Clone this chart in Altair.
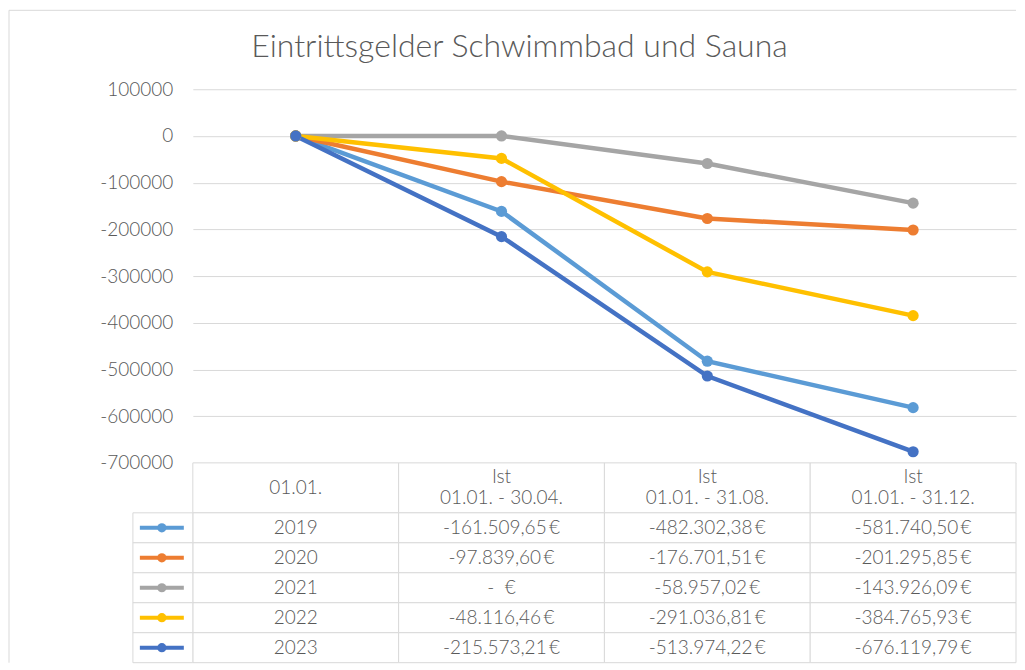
import altair as alt
import pandas as pd

# ---------------- data ----------------
title_text = "Eintrittsgelder Schwimmbad und Sauna"
categories = ["01.01.", "Ist 01.01. - 30.04.", "Ist 01.01. - 31.08.", "Ist 01.01. - 31.12."]
header_labels = ["01.01.", "Ist\n01.01. - 30.04.", "Ist\n01.01. - 31.08.", "Ist\n01.01. - 31.12."]
series = ["2019", "2020", "2021", "2022", "2023"]
v2019 = [0, -161509.65, -482302.38, -581740.50]
v2020 = [0, -97839.60, -176701.51, -201295.85]
v2021 = [0, 0, -58957.02, -143926.09]
v2022 = [0, -48116.46, -291036.81, -384765.93]
v2023 = [0, -215573.21, -513974.22, -676119.79]
colors = ["#5B9BD5", "#ED7D31", "#A5A5A5", "#FFC000", "#4472C4"]
y_ticks = [100000, 0, -100000, -200000, -300000, -400000, -500000, -600000, -700000]

values = [v2019, v2020, v2021, v2022, v2023]

# ---------------- styles ----------------
W = 824
H_TOP = 374
HDR_PX = 50
ROW_PX = 30
H_TAB = HDR_PX + ROW_PX * len(series)
FONT = "Lato"
TXT = "#595959"
GRID = "#d9d9d9"


def de_eur(v):
    if v == 0:
        return "-\u00a0\u00a0€"
    s = f"{abs(v):,.2f}".replace(",", "X").replace(".", ",").replace("X", ".")
    return ("-" if v < 0 else "") + s + "\u2009€"


rows = []
for si, (s, vals) in enumerate(zip(series, values)):
    for ci, (c, v) in enumerate(zip(categories, vals)):
        rows.append({"series": s, "category": c, "value": v, "order": si * 10 + ci})
df = pd.DataFrame(rows)

color = alt.Color("series:N", scale=alt.Scale(domain=series, range=colors), legend=None)
x_top = alt.X("category:N", sort=categories,
              scale=alt.Scale(type="point", domain=categories, padding=0.5), axis=None)
y_top = alt.Y("value:Q",
              scale=alt.Scale(domain=[-700000, 100000], nice=False, zero=False),
              axis=alt.Axis(values=y_ticks, labelExpr="'' + datum.value", domain=False,
                            ticks=False, grid=True, gridColor=GRID, gridWidth=1,
                            labelFont=FONT, labelFontSize=19, labelFontWeight=300,
                            labelColor=TXT, labelPadding=20, title=None))

lines = alt.Chart(df).mark_line(strokeWidth=4.5).encode(x=x_top, y=y_top, color=color)
points = alt.Chart(df).mark_circle(size=125, opacity=1).encode(
    x=x_top, y=y_top, color=color, order=alt.Order("order:Q"))

one = pd.DataFrame({"t": [title_text]})
title = alt.Chart(one).mark_text(font=FONT, fontSize=32, fontWeight=300, color=TXT,
                                 align="center", baseline="alphabetic").encode(
    x=alt.value(327), y=alt.value(-32), text="t:N")
frame_top = alt.Chart(one).mark_rule(color=GRID, strokeWidth=1).encode(
    x=alt.value(-184), x2=alt.value(W), y=alt.value(-79))
frame_left = alt.Chart(one).mark_rule(color=GRID, strokeWidth=1).encode(
    x=alt.value(-184), y=alt.value(-79), y2=alt.value(H_TOP + H_TAB))

top = alt.layer(frame_top, frame_left, title, lines, points).properties(width=W, height=H_TOP)

# ---------------- data table ----------------
cells = []
for ci, c in enumerate(categories):
    cells.append({"category": c, "row": "header", "top": 0, "bottom": HDR_PX,
                  "text": header_labels[ci], "series": "",
                  "nlines": header_labels[ci].count("\n") + 1})
for si, s in enumerate(series):
    t = HDR_PX + si * ROW_PX
    for ci, c in enumerate(categories):
        txt = s if ci == 0 else de_eur(values[si][ci])
        cells.append({"category": c, "row": s, "top": t, "bottom": t + ROW_PX,
                      "text": txt, "series": s, "nlines": 1})
cdf = pd.DataFrame(cells)
cdf["mid"] = (cdf["top"] + cdf["bottom"]) / 2

keys = pd.DataFrame({"series": series,
                     "top": [HDR_PX + i * ROW_PX for i in range(len(series))]})
keys["bottom"] = keys["top"] + ROW_PX
keys["mid"] = (keys["top"] + keys["bottom"]) / 2

x_tab = alt.X("category:N", sort=categories,
              scale=alt.Scale(type="band", domain=categories, paddingInner=0, paddingOuter=0),
              axis=None)
y_scale = alt.Scale(domain=[0, H_TAB], reverse=True, nice=False, zero=False)

cell_rects = alt.Chart(cdf).mark_rect(fill="white", stroke=GRID, strokeWidth=1).encode(
    x=x_tab, y=alt.Y("top:Q", scale=y_scale, axis=None), y2="bottom:Q")
key_rects = alt.Chart(keys).mark_rect(fill="white", stroke=GRID, strokeWidth=1).encode(
    x=alt.value(-60), x2=alt.value(0),
    y=alt.Y("top:Q", scale=y_scale, axis=None), y2="bottom:Q")
key_lines = alt.Chart(keys).mark_rule(strokeWidth=4).encode(
    x=alt.value(-53), x2=alt.value(-9),
    y=alt.Y("mid:Q", scale=y_scale, axis=None), color=color)
key_dots = alt.Chart(keys).mark_circle(size=85, opacity=1).encode(
    x=alt.value(-31), y=alt.Y("mid:Q", scale=y_scale, axis=None), color=color)
text_style = dict(font=FONT, fontSize=19, fontWeight=300, color=TXT,
                  lineBreak="\n", lineHeight=21)
body_text = alt.Chart(cdf).transform_filter("datum.nlines == 1").mark_text(**text_style).encode(
    x=x_tab, y=alt.Y("mid:Q", scale=y_scale, axis=None), text="text:N")
head_text = alt.Chart(cdf).transform_filter("datum.nlines == 2").mark_text(
    dy=-10.5, **text_style).encode(
    x=x_tab, y=alt.Y("mid:Q", scale=y_scale, axis=None), text="text:N")

table = alt.layer(cell_rects, key_rects, key_lines, key_dots, body_text, head_text).properties(
    width=W, height=H_TAB)

chart = alt.vconcat(top, table, spacing=0, bounds="flush").resolve_scale(
    x="independent", y="independent", color="shared").configure_view(stroke=None).properties(
    padding={"left": 0, "top": 1, "right": 0, "bottom": 0})

chart.save("out.html", embed_options={"renderer": "svg", "actions": False})
